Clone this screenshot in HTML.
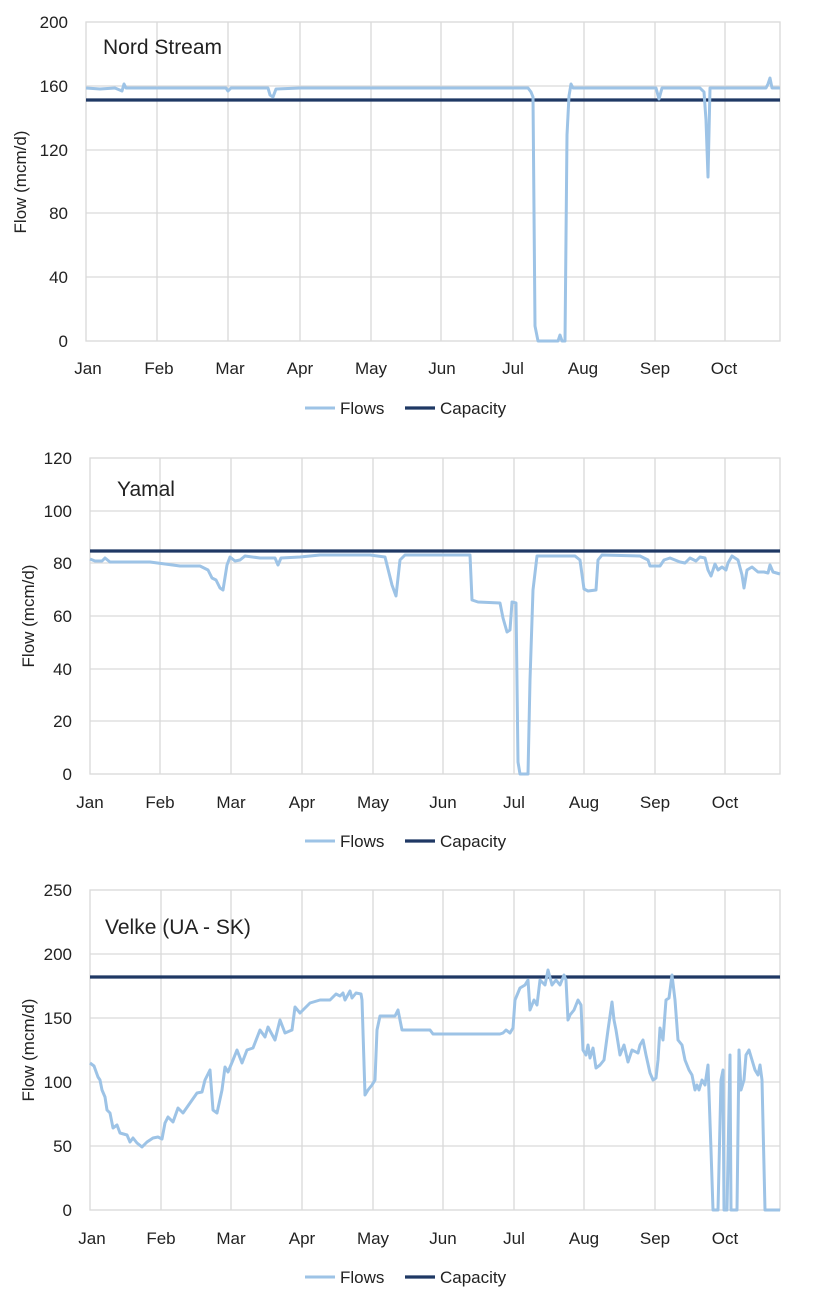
<!DOCTYPE html>
<html><head><meta charset="utf-8"><style>
body{margin:0;background:#fff}
svg{display:block;font-family:"Liberation Sans",sans-serif}
text{font-size:17px;fill:#222}
.g{stroke:#d9d9d9;stroke-width:1.3;fill:none}
.f{stroke:#9dc3e6;stroke-width:3;fill:none;stroke-linejoin:round}
.c{stroke:#1f3864;stroke-width:3.2}
</style></head><body>
<svg width="814" height="1304" viewBox="0 0 814 1304">
<g>
<rect x="86" y="22" width="694" height="319" class="g"/>
<path class="g" d="M86 86H780M86 150H780M86 213H780M86 277H780M157 22V341M228 22V341M300 22V341M371 22V341M441 22V341M513 22V341M584 22V341M655 22V341M725 22V341"/>
<g text-anchor="end"><text x="68" y="28">200</text><text x="68" y="92">160</text><text x="68" y="156">120</text><text x="68" y="219">80</text><text x="68" y="283">40</text><text x="68" y="347">0</text></g>
<g text-anchor="middle"><text x="88" y="374">Jan</text><text x="159" y="374">Feb</text><text x="230" y="374">Mar</text><text x="300" y="374">Apr</text><text x="371" y="374">May</text><text x="442" y="374">Jun</text><text x="513" y="374">Jul</text><text x="583" y="374">Aug</text><text x="655" y="374">Sep</text><text x="724" y="374">Oct</text></g>
<text transform="translate(26 182) rotate(-90)" text-anchor="middle">Flow (mcm/d)</text>
<text x="103" y="54" style="font-size:21px">Nord Stream</text>
<line class="c" x1="86" y1="100" x2="780" y2="100"/>
<polyline class="f" points="86,88 100,89 115,88 122,91 124,84 126,88 150,88 200,88 226,88 228,91 231,88 260,88 268,88 270,95 273,97 276,89 300,88 400,88 500,88 528,88 531,92 533,97 535,326 538,341 558,341 560,335 562,341 565,341 567,135 569,96 571,84 573,88 600,88 650,88 656,88 659,99 662,88 700,88 704,92 706,120 708,177 710,88 740,88 766,88 768,84 770,78 772,88 780,88"/>
<line class="f" x1="305" y1="408" x2="335" y2="408"/><text x="340" y="414">Flows</text>
<line class="c" x1="405" y1="408" x2="435" y2="408"/><text x="440" y="414">Capacity</text>
</g>
<g>
<rect x="90" y="458" width="690" height="316" class="g"/>
<path class="g" d="M90 511H780M90 563H780M90 616H780M90 669H780M90 721H780M160 458V774M231 458V774M302 458V774M373 458V774M443 458V774M514 458V774M584 458V774M655 458V774M725 458V774"/>
<g text-anchor="end"><text x="72" y="464">120</text><text x="72" y="517">100</text><text x="72" y="569">80</text><text x="72" y="622">60</text><text x="72" y="675">40</text><text x="72" y="727">20</text><text x="72" y="780">0</text></g>
<g text-anchor="middle"><text x="90" y="808">Jan</text><text x="160" y="808">Feb</text><text x="231" y="808">Mar</text><text x="302" y="808">Apr</text><text x="373" y="808">May</text><text x="443" y="808">Jun</text><text x="514" y="808">Jul</text><text x="584" y="808">Aug</text><text x="655" y="808">Sep</text><text x="725" y="808">Oct</text></g>
<text transform="translate(34 616) rotate(-90)" text-anchor="middle">Flow (mcm/d)</text>
<text x="117" y="496" style="font-size:21px">Yamal</text>
<line class="c" x1="90" y1="551" x2="780" y2="551"/>
<polyline class="f" points="90,559 95,561 102,561 105,558 110,562 150,562 165,564 180,566 200,566 208,570 212,578 216,580 220,588 223,590 227,565 230,557 235,561 240,560 245,556 260,558 275,558 278,565 281,558 300,557 320,555 370,555 385,557 392,585 396,596 400,560 405,555 470,555 472,600 478,602 500,603 503,618 507,632 510,630 512,602 516,603 518,762 520,774 528,774 530,680 533,590 537,556 575,556 580,560 584,589 588,591 596,590 598,560 602,555 640,556 648,560 650,566 660,566 664,560 670,558 680,562 685,563 690,558 696,561 700,557 705,558 708,570 711,576 715,564 718,570 722,567 726,570 728,563 732,556 738,560 742,575 744,588 747,570 752,567 758,572 764,572 768,573 770,565 773,572 780,574"/>
<line class="f" x1="305" y1="841" x2="335" y2="841"/><text x="340" y="847">Flows</text>
<line class="c" x1="405" y1="841" x2="435" y2="841"/><text x="440" y="847">Capacity</text>
</g>
<g>
<rect x="90" y="890" width="690" height="320" class="g"/>
<path class="g" d="M90 954H780M90 1018H780M90 1082H780M90 1146H780M161 890V1210M231 890V1210M302 890V1210M373 890V1210M443 890V1210M514 890V1210M584 890V1210M655 890V1210M725 890V1210"/>
<g text-anchor="end"><text x="72" y="896">250</text><text x="72" y="960">200</text><text x="72" y="1024">150</text><text x="72" y="1088">100</text><text x="72" y="1152">50</text><text x="72" y="1216">0</text></g>
<g text-anchor="middle"><text x="92" y="1244">Jan</text><text x="161" y="1244">Feb</text><text x="231" y="1244">Mar</text><text x="302" y="1244">Apr</text><text x="373" y="1244">May</text><text x="443" y="1244">Jun</text><text x="514" y="1244">Jul</text><text x="584" y="1244">Aug</text><text x="655" y="1244">Sep</text><text x="725" y="1244">Oct</text></g>
<text transform="translate(34 1050) rotate(-90)" text-anchor="middle">Flow (mcm/d)</text>
<text x="105" y="934" style="font-size:21px">Velke (UA - SK)</text>
<line class="c" x1="90" y1="977" x2="780" y2="977"/>
<polyline class="f" points="90,1063 94,1066 98,1077 100,1080 102,1090 105,1097 107,1110 110,1113 113,1128 117,1125 120,1133 127,1135 130,1142 133,1138 137,1143 142,1147 147,1142 153,1138 158,1137 162,1139 165,1123 168,1117 173,1122 178,1108 183,1113 190,1103 197,1093 202,1092 205,1080 210,1070 213,1110 217,1113 222,1090 225,1067 228,1072 233,1060 237,1050 242,1063 247,1050 253,1048 260,1030 265,1037 268,1027 275,1040 280,1020 285,1033 292,1030 295,1007 300,1013 310,1003 320,1000 330,1000 336,994 340,996 343,993 345,1000 350,991 352,998 356,993 361,994 362,1000 365,1095 368,1090 372,1085 375,1080 377,1030 380,1016 395,1016 398,1010 402,1030 430,1030 433,1034 500,1034 503,1033 506,1030 510,1033 513,1028 515,1000 520,988 525,985 528,980 530,1010 534,1000 537,1005 540,980 545,985 548,970 552,985 556,980 560,985 564,975 566,980 568,1020 570,1015 574,1010 578,1000 581,1005 583,1050 586,1055 588,1045 590,1058 593,1048 596,1068 600,1065 604,1060 608,1030 612,1002 614,1020 616,1030 620,1055 624,1045 628,1062 632,1050 638,1053 640,1045 643,1040 646,1055 650,1073 653,1080 656,1078 658,1060 660,1028 663,1040 666,1000 669,998 672,975 675,1000 678,1040 682,1045 685,1060 689,1070 692,1075 695,1090 697,1085 699,1090 702,1080 705,1085 708,1065 711,1150 713,1210 718,1210 721,1080 723,1070 724,1210 727,1210 730,1055 731,1210 737,1210 739,1050 741,1090 744,1080 746,1055 749,1050 752,1060 755,1070 758,1075 760,1065 762,1080 765,1210 780,1210"/>
<line class="f" x1="305" y1="1277" x2="335" y2="1277"/><text x="340" y="1283">Flows</text>
<line class="c" x1="405" y1="1277" x2="435" y2="1277"/><text x="440" y="1283">Capacity</text>
</g>
</svg>
</body></html>
